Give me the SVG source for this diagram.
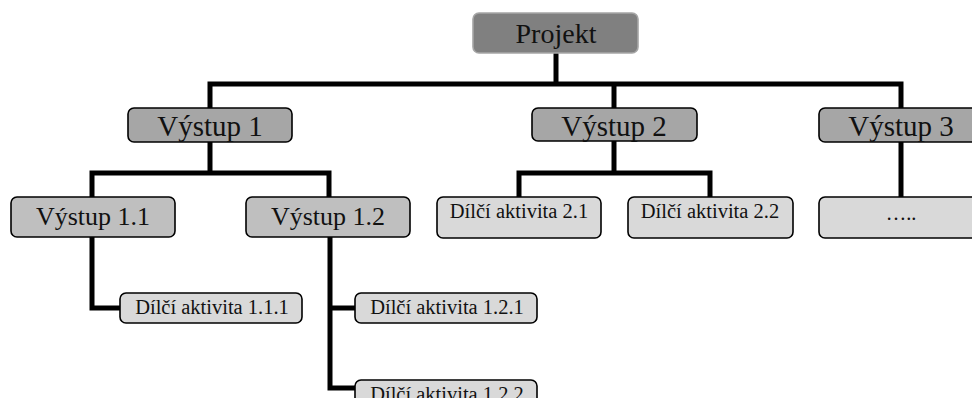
<svg xmlns="http://www.w3.org/2000/svg" width="972" height="398" viewBox="0 0 972 398">
  <style>
    .box { stroke: #000; stroke-width: 1.6; }
    .root { fill: #808080; stroke: #a6a6a6; stroke-width: 1.6; }
    .l1 { fill: #a6a6a6; }
    .l2 { fill: #bfbfbf; }
    .act { fill: #d9d9d9; }
    text { font-family: "Liberation Serif", "Times New Roman", serif; fill: #111; text-anchor: middle; }
    .t28 { font-size: 28px; }
    .t29 { font-size: 29px; }
    .t26 { font-size: 26px; }
    .t21 { font-size: 20.5px; }
    .wire { fill: none; stroke: #000; stroke-width: 5; stroke-linejoin: miter; stroke-linecap: butt; }
  </style>
  <rect width="972" height="398" fill="#fff"/>

  <!-- connectors -->
  <g id="connectors" class="wire">
    <path d="M556,53 V84"/>
    <path d="M210,108 V84 H901 V108"/>
    <path d="M614,84 V108"/>
    <path d="M210,142 V173"/>
    <path d="M92,197 V173 H329 V197"/>
    <path d="M614,141 V173"/>
    <path d="M519,197 V173 H710 V197"/>
    <path d="M901,142 V197"/>
    <path d="M92,237 V308 H120"/>
    <path d="M330,237 V388 H355"/>
    <path d="M330,308 H355"/>
  </g>

  <g id="projekt">
    <rect class="root" x="473" y="13" width="165" height="40" rx="6"/>
    <text class="t28" x="556" y="43">Projekt</text>
  </g>

  <g id="vystup-1">
    <rect class="box l1" x="128" y="108" width="164" height="34" rx="6"/>
    <text class="t29" x="210" y="136">Výstup 1</text>
  </g>
  <g id="vystup-2">
    <rect class="box l1" x="532" y="108" width="165" height="33" rx="6"/>
    <text class="t29" x="614" y="136">Výstup 2</text>
  </g>
  <g id="vystup-3">
    <rect class="box l1" x="819" y="108" width="165" height="34" rx="6"/>
    <text class="t29" x="901" y="136">Výstup 3</text>
  </g>

  <g id="vystup-1-1">
    <rect class="box l2" x="11" y="197" width="164" height="40" rx="6"/>
    <text class="t26" x="93" y="225">Výstup 1.1</text>
  </g>
  <g id="vystup-1-2">
    <rect class="box l2" x="246" y="197" width="164" height="40" rx="6"/>
    <text class="t26" x="328" y="225">Výstup 1.2</text>
  </g>

  <g id="aktivita-2-1">
    <rect class="box act" x="437" y="197" width="164" height="41" rx="6"/>
    <text class="t21" x="519" y="218">Dílčí aktivita 2.1</text>
  </g>
  <g id="aktivita-2-2">
    <rect class="box act" x="628" y="197" width="165" height="41" rx="6"/>
    <text class="t21" x="710" y="218">Dílčí aktivita 2.2</text>
  </g>
  <g id="aktivita-3">
    <rect class="box act" x="819" y="197" width="165" height="41" rx="6"/>
    <text class="t21" x="901" y="220">…..</text>
  </g>

  <g id="aktivita-1-1-1">
    <rect class="box act" x="120" y="293" width="182" height="30" rx="6"/>
    <text class="t21" x="212" y="314">Dílčí aktivita 1.1.1</text>
  </g>
  <g id="aktivita-1-2-1">
    <rect class="box act" x="355" y="293" width="182" height="30" rx="6"/>
    <text class="t21" x="447" y="314">Dílčí aktivita 1.2.1</text>
  </g>
  <g id="aktivita-1-2-2">
    <rect class="box act" x="355" y="380" width="182" height="30" rx="6"/>
    <text class="t21" x="447" y="401">Dílčí aktivita 1.2.2</text>
  </g>
</svg>
